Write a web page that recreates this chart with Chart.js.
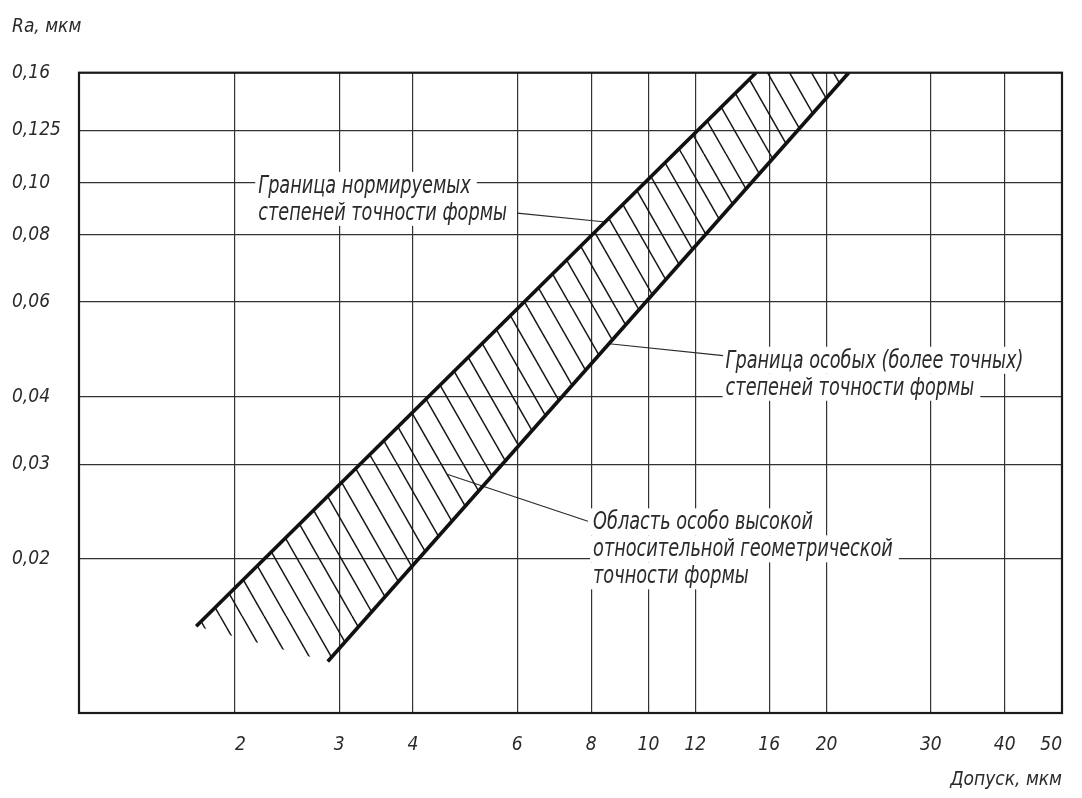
<!DOCTYPE html>
<html lang="ru">
<head>
<meta charset="utf-8">
<title>Ra / Допуск</title>
<script src="https://cdn.jsdelivr.net/npm/chart.js@4.4.1/dist/chart.umd.min.js"></script>
<style>
  html, body { margin: 0; padding: 0; background: #fff; }
  #wrap { width: 1082px; height: 798px; position: relative; }
</style>
</head>
<body>
<div id="wrap"><canvas id="chart"></canvas></div>
<script>
// --- Data ---
const xTicks = [2, 3, 4, 6, 8, 10, 12, 16, 20, 30, 40, 50];
const xTickLabels = ['2', '3', '4', '6', '8', '10', '12', '16', '20', '30', '40', '50'];
const yTicks = [0.02, 0.03, 0.04, 0.06, 0.08, 0.10, 0.125, 0.16];
const yTickLabels = ['0,02', '0,03', '0,04', '0,06', '0,08', '0,10', '0,125', '0,16'];

// Граница нормируемых степеней (upper boundary)
const upperX = [1.72, 15.2];
const upperY = [0.0150, 0.16];
// Граница особых (более точных) степеней (lower boundary)
const lowerX = [2.87, 21.8];
const lowerY = [0.0129, 0.16];

// Callouts, positioned in data units (tolerance, Ra)
const notes = [
    { lines: ['Граница нормируемых', 'степеней точности формы'], at: [2.19, 0.0957], leader: [[6.0, 0.0878], [8.46, 0.0845]] },
    { lines: ['Граница особых (более точных)', 'степеней точности формы'], at: [13.5, 0.0453], leader: [[8.58, 0.0502], [13.37, 0.0477]] },
    { lines: ['Область особо высокой', 'относительной геометрической', 'точности формы'], at: [8.06, 0.0227], leader: [[4.58, 0.0287], [7.90, 0.0235]] }
];

const FONT_FAMILY = '"Liberation Sans Narrow", "DejaVu Sans Condensed", "Roboto Condensed", Roboto, sans-serif';
const INK = '#2a2a2a';
const NOTE_FONT = `italic 24px ${FONT_FAMILY}`;
const NOTE_GAP = 27;
const NOTE_STRETCH = 0.82; // drawing type is narrower than the installed fonts

// Diagonal hatch used for the band between the two boundaries
function makeHatch() {
    const w = 88, h = 154; // 4 strokes, 22px apart, slope 1.75
    const c = document.createElement('canvas');
    c.width = w;
    c.height = h;
    const g = c.getContext('2d');
    g.strokeStyle = '#151515';
    g.lineWidth = 1.5;
    for (let x0 = -w; x0 <= w; x0 += 22) {
        g.beginPath();
        g.moveTo(x0, 0);
        g.lineTo(x0 + w, h);
        g.stroke();
    }
    return g.createPattern(c, 'repeat');
}

const toPoints = (xs, ys) => xs.map((v, i) => ({ x: v, y: ys[i] }));
const bandPoints = toPoints(upperX, upperY).concat(toPoints(lowerX, lowerY).reverse());

// white boxes behind the callout text, leader lines, text
const notesPlugin = {
    id: 'notes',
    beforeDatasetsDraw(chart) {
        const { ctx, scales: { x, y } } = chart;
        ctx.save();
        ctx.font = NOTE_FONT;
        ctx.textBaseline = 'alphabetic';
        notes.forEach(n => {
            const left = x.getPixelForValue(n.at[0]);
            const base = y.getPixelForValue(n.at[1]);
            ctx.fillStyle = '#fff';
            n.lines.forEach((t, i) => {
                const w = ctx.measureText(t).width * NOTE_STRETCH;
                ctx.fillRect(left - 3, base + i * NOTE_GAP - 21, w + 9, NOTE_GAP);
            });
            ctx.strokeStyle = INK;
            ctx.lineWidth = 1.2;
            ctx.beginPath();
            ctx.moveTo(x.getPixelForValue(n.leader[0][0]), y.getPixelForValue(n.leader[0][1]));
            ctx.lineTo(x.getPixelForValue(n.leader[1][0]), y.getPixelForValue(n.leader[1][1]));
            ctx.stroke();
            ctx.fillStyle = INK;
            n.lines.forEach((t, i) => {
                ctx.save();
                ctx.translate(left, base + i * NOTE_GAP);
                ctx.scale(NOTE_STRETCH, 1);
                ctx.fillText(t, 0, 0);
                ctx.restore();
            });
        });
        ctx.restore();
    }
};

const framePlugin = {
    id: 'frame',
    afterDatasetsDraw(chart) {
        const { ctx, chartArea: a } = chart;
        ctx.save();
        ctx.strokeStyle = '#1a1a1a';
        ctx.lineWidth = 2.2;
        ctx.strokeRect(a.left, a.top, a.right - a.left, a.bottom - a.top);
        ctx.restore();
    }
};

const tickFont = { family: FONT_FAMILY, size: 19, style: 'italic' };

new Chart(document.getElementById('chart'), {
    type: 'line',
    data: {
        datasets: [
            {
                data: toPoints(upperX, upperY),
                borderColor: '#111',
                borderWidth: 3.6,
                pointRadius: 0,
                fill: false
            },
            {
                data: toPoints(lowerX, lowerY),
                borderColor: '#111',
                borderWidth: 3.6,
                pointRadius: 0,
                fill: false
            },
            {
                data: bandPoints,
                borderWidth: 0,
                borderColor: 'rgba(0,0,0,0)',
                backgroundColor: makeHatch(),
                pointRadius: 0,
                fill: 'shape'
            }
        ]
    },
    options: {
        responsive: true,
        maintainAspectRatio: false,
        animation: false,
        layout: { padding: { top: 12, left: 12, right: 20, bottom: 0 } },
        plugins: {
            legend: { display: false },
            tooltip: { enabled: false },
            title: {
                display: true,
                text: 'Ra, мкм',
                align: 'start',
                color: INK,
                font: { family: FONT_FAMILY, size: 19, style: 'italic', weight: 'normal' },
                padding: { top: 4, bottom: 33.9 }
            }
        },
        scales: {
            x: {
                type: 'logarithmic',
                min: 1.09,
                max: 50,
                afterBuildTicks: scale => { scale.ticks = xTicks.map(v => ({ value: v })); },
                afterFit: scale => {
                    scale.height = 85;
                    scale.paddingRight = 0;
                    scale.paddingLeft = 0;
                },
                ticks: {
                    autoSkip: false,
                    maxRotation: 0,
                    align: 'inner',
                    padding: 21,
                    color: INK,
                    font: tickFont,
                    callback: (value, index) => xTickLabels[index]
                },
                grid: { color: '#333', lineWidth: 1.2, drawTicks: false },
                border: { display: false },
                title: {
                    display: true,
                    text: 'Допуск, мкм',
                    align: 'end',
                    color: INK,
                    font: tickFont,
                    padding: { top: 0, bottom: 7 }
                }
            },
            y: {
                type: 'logarithmic',
                min: 0.01035,
                max: 0.16,
                afterBuildTicks: scale => { scale.ticks = yTicks.map(v => ({ value: v })); },
                afterFit: scale => { scale.width = 67; },
                ticks: {
                    crossAlign: 'far',
                    padding: 8,
                    color: INK,
                    font: tickFont,
                    callback: (value, index) => yTickLabels[index]
                },
                grid: { color: '#333', lineWidth: 1.2, drawTicks: false },
                border: { display: false }
            }
        }
    },
    plugins: [notesPlugin, framePlugin]
});
</script>
</body>
</html>
